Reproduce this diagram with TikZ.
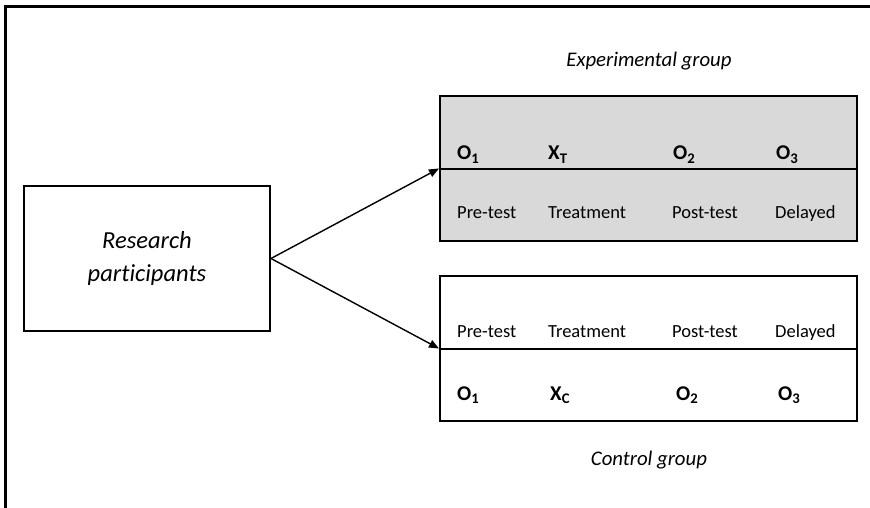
\documentclass[tikz,border=0pt]{standalone}
\usepackage{fontspec}
\setmainfont{Carlito}[Ligatures=NoCommon]
\usetikzlibrary{arrows.meta}
\definecolor{boxgray}{RGB}{217,217,217}

\tikzset{
  box/.style={draw, line width=2pt, inner sep=0pt},
  arrow/.style={-{Triangle[length=10pt,width=8pt]}, line width=1.4pt},
  lbl/.style={anchor=base west, inner sep=0pt, font=\fontsize{18.5}{22}\selectfont},
  obs/.style={anchor=base west, inner sep=0pt, font=\fontsize{21}{24}\selectfont\bfseries},
  grpcap/.style={anchor=base, inner sep=0pt, font=\fontsize{20.8}{24}\selectfont\itshape}
}

\begin{document}
\begin{tikzpicture}[x=1pt, y=-1pt]
  \useasboundingbox (0,0) rectangle (870,508);
  % outer frame
  \draw[line width=3pt] (5,508) -- (5,7) -- (870,7);

  \node[box, minimum width=246pt, minimum height=145pt, align=center,
        font=\fontsize{24.5}{33}\selectfont\itshape] (rp) at (147,258.5) {Research\\participants};

  \node[box, fill=boxgray, minimum width=417pt, minimum height=145pt] (exp) at (648.5,168.5) {};
  \node[box, minimum width=417pt, minimum height=145pt] (ctl) at (648.5,348.5) {};
  \draw[line width=2pt] (exp.west) -- (exp.east);
  \draw[line width=2pt] (ctl.west) -- (ctl.east);

  \node[grpcap] (expcap) at (649,67) {Experimental group};
  \node[grpcap] (ctlcap) at (649,465) {Control group};

  \draw[arrow] (rp.east) -- (exp.west);
  \draw[arrow] (rp.east) -- (ctl.west);

  % experimental group
  \node[obs] (eo1) at (457,160) {O\textsubscript{1}};
  \node[obs] (ex) at (548,160) {X\textsubscript{T}};
  \node[obs] (eo2) at (673,160) {O\textsubscript{2}};
  \node[obs] (eo3) at (776,160) {O\textsubscript{3}};
  \foreach \x/\t [count=\i] in {457/Pre-test, 548/Treatment, 672/Post-test, 775/Delayed}
    \node[lbl] (el\i) at (\x,218) {\t};

  % control group
  \foreach \x/\t [count=\i] in {457/Pre-test, 548/Treatment, 672/Post-test, 775/Delayed}
    \node[lbl] (cl\i) at (\x,337) {\t};
  \node[obs] (co1) at (457,400) {O\textsubscript{1}};
  \node[obs] (cx) at (550,400) {X\textsubscript{C}};
  \node[obs] (co2) at (676,400) {O\textsubscript{2}};
  \node[obs] (co3) at (778,400) {O\textsubscript{3}};
\end{tikzpicture}
\end{document}
